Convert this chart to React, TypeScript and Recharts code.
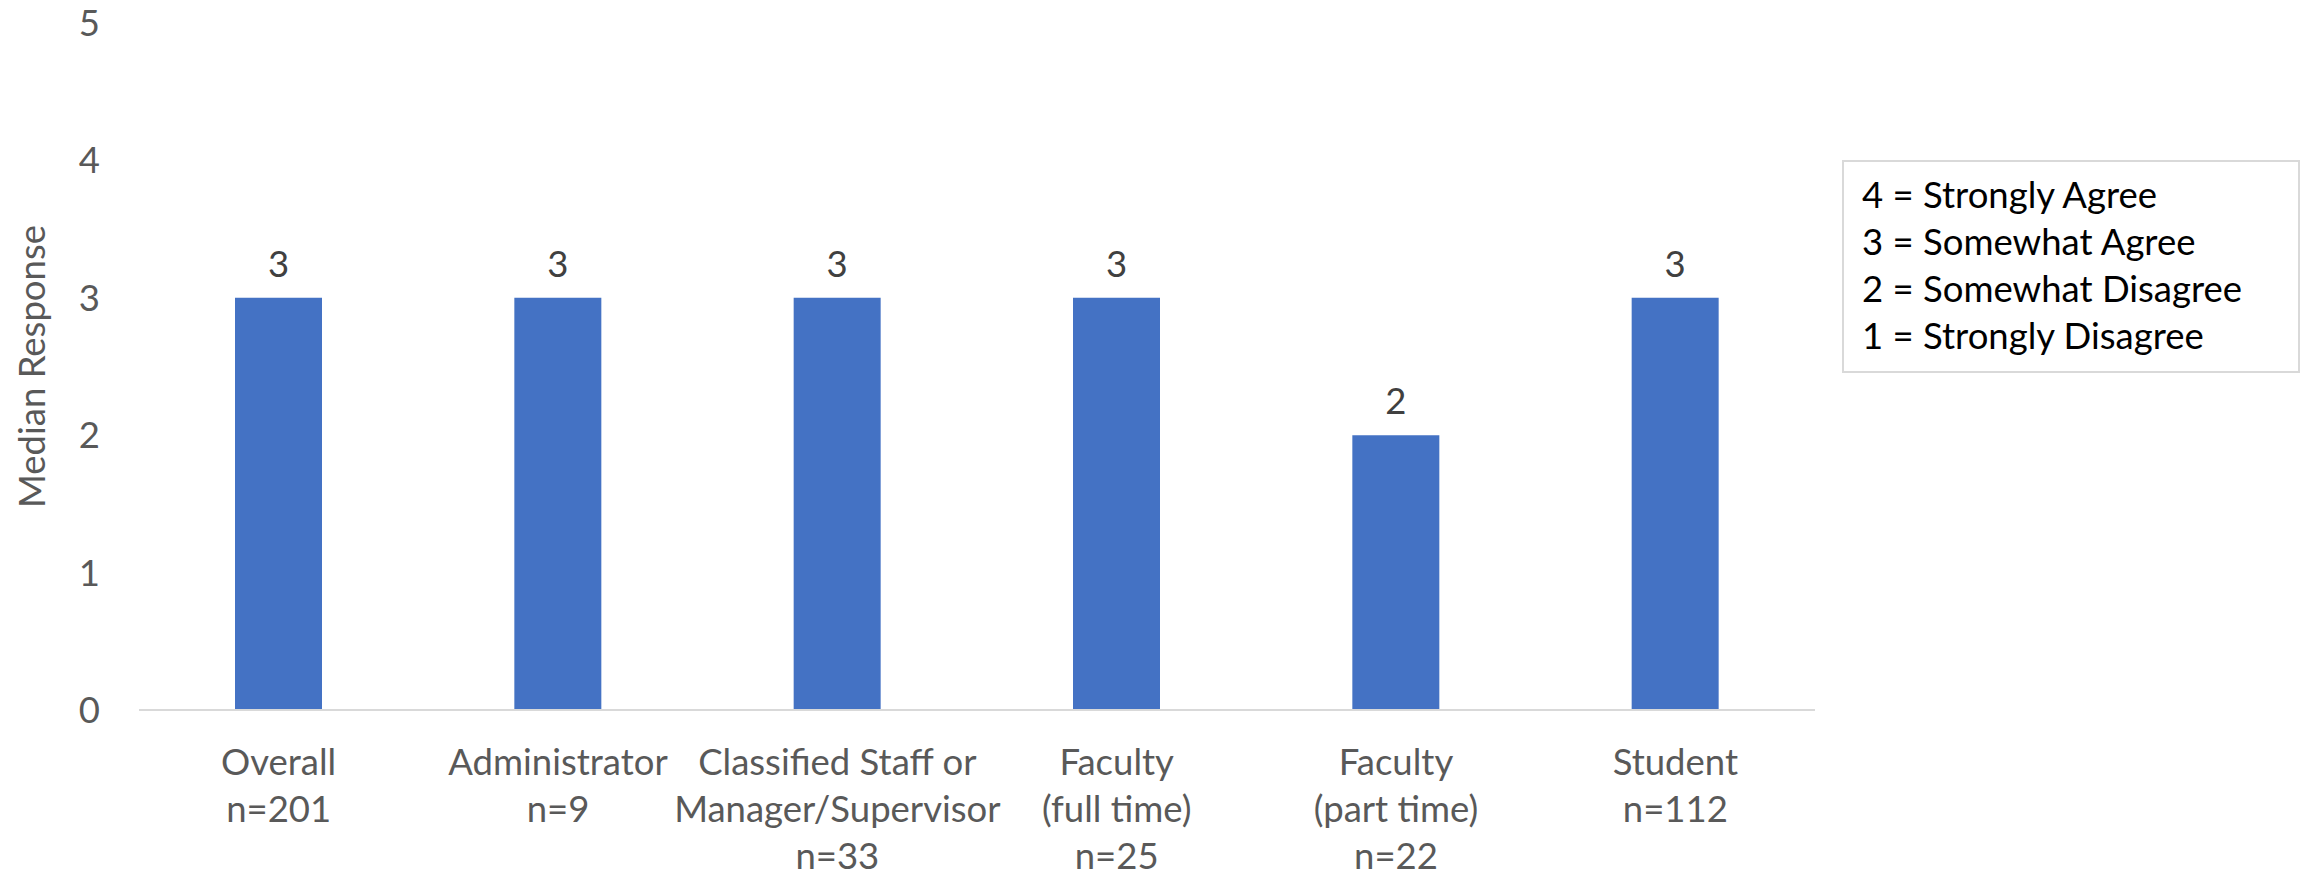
import { BarChart, Bar, XAxis, YAxis, LabelList, Legend, Label } from 'recharts';

const groups = [
  'Overall',
  'Administrator',
  'Classified Staff or\nManager/Supervisor',
  'Faculty\n(full time)',
  'Faculty\n(part time)',
  'Student',
];
const sampleSizes = [201, 9, 33, 25, 22, 112];
const medians = [3, 3, 3, 3, 2, 3];
const yTicks = [0, 1, 2, 3, 4, 5];
const scaleLabels = [
  '4 = Strongly Agree',
  '3 = Somewhat Agree',
  '2 = Somewhat Disagree',
  '1 = Strongly Disagree',
];

const data = groups.map((group, i) => ({ group, n: sampleSizes[i], median: medians[i] }));

const FONT = 36.5;

const GroupTick = ({ x, y, payload }: any) => {
  const row = data.find(d => d.group === payload.value);
  const lines = [...String(payload.value).split('\n'), `n=${row ? row.n : ''}`];
  return (
    <text x={x} y={y} textAnchor="middle" fill="#595959" fontSize={FONT}>
      {lines.map((line, i) => (
        <tspan key={i} x={x} dy={i === 0 ? 63 : 47}>
          {line}
        </tspan>
      ))}
    </text>
  );
};

const ScaleKey = () => (
  <div
    style={{
      boxSizing: 'border-box',
      width: 458,
      height: 213,
      border: '2px solid #d9d9d9',
      padding: '9px 0 0 18px',
      fontSize: FONT,
      lineHeight: '47px',
      color: '#000',
      background: '#fff',
    }}
  >
    {scaleLabels.map(s => (
      <div key={s}>{s}</div>
    ))}
  </div>
);

export default function App() {
  return (
    <div style={{ position: 'absolute', left: 0, top: 0, fontFamily: 'Lato, sans-serif' }}>
      <BarChart
        width={2301}
        height={877}
        data={data}
        margin={{ top: 23, right: 486, bottom: 0, left: 0 }}
        barSize={87}
      >
        <XAxis
          dataKey="group"
          height={167}
          interval={0}
          tickLine={false}
          tickSize={0}
          tick={<GroupTick />}
          axisLine={{ stroke: '#d9d9d9', strokeWidth: 2 }}
        />
        <YAxis
          domain={[0, 5]}
          ticks={yTicks}
          width={139}
          axisLine={false}
          tickLine={false}
          tickSize={0}
          tickMargin={39}
          tick={{ fill: '#595959', fontSize: FONT }}
        >
          <Label
            value="Median Response"
            angle={-90}
            position="insideLeft"
            offset={32}
            style={{ textAnchor: 'middle', fill: '#595959', fontSize: FONT }}
          />
        </YAxis>
        <Legend
          layout="horizontal"
          verticalAlign="middle"
          align="center"
          content={<ScaleKey />}
          wrapperStyle={{ left: 1842, top: 160, width: 458, height: 213 }}
        />
        <Bar dataKey="median" fill="#4472C4" isAnimationActive={false}>
          <LabelList dataKey="median" position="top" offset={21} fill="#404040" fontSize={FONT} />
        </Bar>
      </BarChart>
    </div>
  );
}
